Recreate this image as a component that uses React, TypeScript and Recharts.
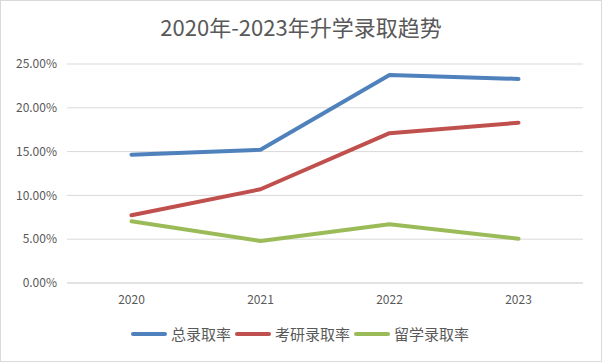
import React from "react";
import { CartesianGrid, ComposedChart, Legend, Line, XAxis, YAxis } from "recharts";

const years = ["2020", "2021", "2022", "2023"];
const totalRate = [0.1465, 0.152, 0.2374, 0.233];
const gradRate = [0.0773, 0.107, 0.171, 0.183];
const abroadRate = [0.0704, 0.048, 0.067, 0.0506];
const yTicks = [0, 0.05, 0.1, 0.15, 0.2, 0.25];

const seriesList = [
    { key: "total", name: "总录取率", color: "#4F81BD", values: totalRate },
    { key: "grad", name: "考研录取率", color: "#C0504D", values: gradRate },
    { key: "abroad", name: "留学录取率", color: "#9BBB59", values: abroadRate },
];

const chartData = years.map((year, i) => {
    const row: any = { year };
    seriesList.forEach((s) => {
        row[s.key] = s.values[i];
    });
    return row;
});

const textColor = "#595959";
const cjkFont = "'Noto Sans CJK SC', 'Noto Sans', sans-serif";

const LegendContent = () => (
    <div style={{ display: "flex", justifyContent: "center", alignItems: "center", fontFamily: cjkFont }}>
        {seriesList.map((s) => (
            <div key={s.key} style={{ display: "flex", alignItems: "center", marginRight: 3 }}>
                <svg width={38} height={8}>
                    <line x1={3} y1={4} x2={35} y2={4} stroke={s.color} strokeWidth={4} strokeLinecap="round" />
                </svg>
                <span style={{ fontSize: 15, color: textColor, marginLeft: 3 }}>{s.name}</span>
            </div>
        ))}
    </div>
);

const App = () => {
    return (
        <div
            style={{
                position: "absolute",
                left: 0,
                top: 0,
                width: 602,
                height: 362,
                boxSizing: "border-box",
                border: "1px solid #D9D9D9",
                background: "#fff",
            }}
        >
            <div
                style={{
                    position: "absolute",
                    top: 9,
                    left: 0,
                    width: 600,
                    textAlign: "center",
                    fontFamily: cjkFont,
                    fontSize: 22,
                    color: textColor,
                }}
            >
                2020年-2023年升学录取趋势
            </div>
            <ComposedChart
                width={600}
                height={360}
                data={chartData}
                margin={{ top: 63, right: 18, bottom: 48, left: 0 }}
            >
                <CartesianGrid vertical={false} stroke="#D9D9D9" />
                <XAxis
                    dataKey="year"
                    scale="band"
                    height={30}
                    tickLine={false}
                    tickSize={0}
                    tickMargin={12}
                    axisLine={{ stroke: "#D9D9D9" }}
                    tick={{ fill: textColor, fontSize: 12, fontFamily: cjkFont }}
                />
                <YAxis
                    width={66}
                    domain={[0, 0.25]}
                    ticks={yTicks}
                    tickFormatter={(v: number) => `${(v * 100).toFixed(2)}%`}
                    tickLine={false}
                    tickSize={0}
                    tickMargin={10}
                    axisLine={false}
                    tick={{ fill: textColor, fontSize: 12, fontFamily: cjkFont }}
                />
                {seriesList.map((s) => (
                    <Line
                        key={s.key}
                        dataKey={s.key}
                        name={s.name}
                        stroke={s.color}
                        strokeWidth={4}
                        strokeLinecap="round"
                        strokeLinejoin="round"
                        dot={false}
                        activeDot={false}
                        isAnimationActive={false}
                    />
                ))}
                <Legend verticalAlign="middle" wrapperStyle={{ top: 322, left: 0, width: 600 }} content={LegendContent} />
            </ComposedChart>
        </div>
    );
};

export default App;
